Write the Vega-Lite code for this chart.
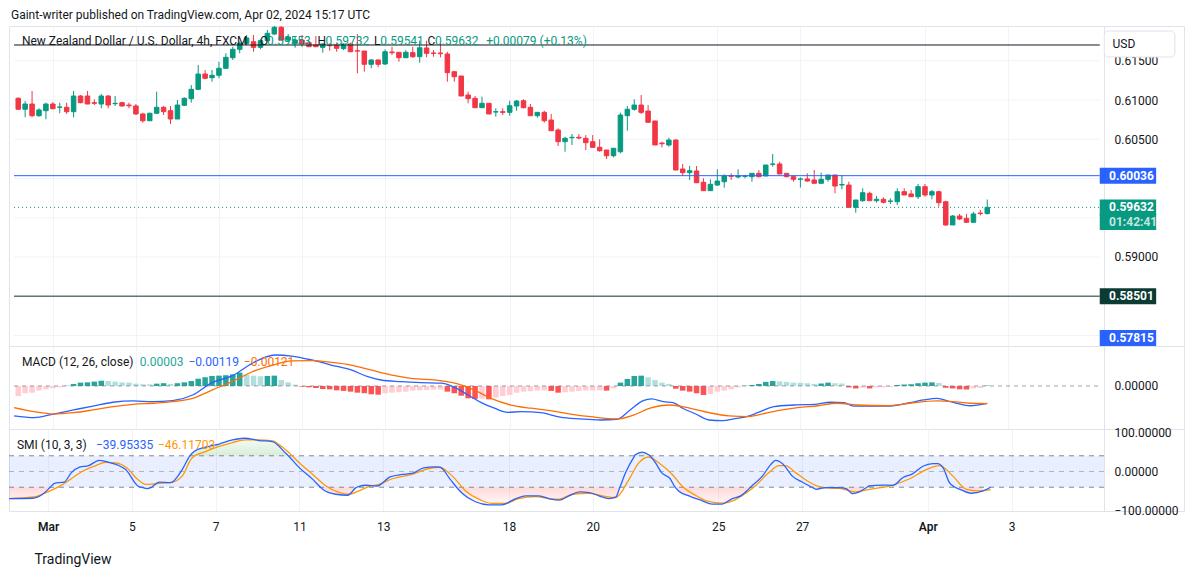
{
  "$schema": "https://vega.github.io/schema/vega-lite/v6.json",
  "padding": {"left": 5, "right": 10, "top": 8, "bottom": 5},
  "title": {"text": "Gaint-writer published on TradingView.com, Apr 02, 2024 15:17 UTC", "anchor": "start", "dx": 5, "offset": 4, "fontSize": 12, "fontWeight": "normal", "color": "#131722", "font": "Roboto"},
  "spacing": 0,
  "bounds": "flush",
  "resolve": {"scale": {"color": "independent"}},
  "datasets": {
    "c": [
      {"k":-5,"o":0.61022,"h":0.61034,"l":0.60873,"c":0.60882,"m":-0.00069,"st":"nu"},
      {"k":-4,"o":0.60882,"h":0.60987,"l":0.60780,"c":0.60949,"m":-0.0005,"st":"nu"},
      {"k":-3,"o":0.60949,"h":0.61115,"l":0.60780,"c":0.60800,"m":-0.00046,"st":"nu"},
      {"k":-2,"o":0.60800,"h":0.60894,"l":0.60787,"c":0.60873,"m":-0.00032,"st":"nu"},
      {"k":-1,"o":0.60864,"h":0.60966,"l":0.60754,"c":0.60949,"m":-0.00023,"st":"nu"},
      {"k":0,"o":0.60949,"h":0.60975,"l":0.60882,"c":0.60889,"m":-0.00016,"st":"nu"},
      {"k":1,"o":0.60907,"h":0.60966,"l":0.60831,"c":0.60911,"m":-0.00009,"st":"nu"},
      {"k":2,"o":0.60907,"h":0.60966,"l":0.60822,"c":0.60851,"m":0.00002,"st":"pu"},
      {"k":3,"o":0.60851,"h":0.61115,"l":0.60780,"c":0.61051,"m":0.00014,"st":"pu"},
      {"k":4,"o":0.61051,"h":0.61064,"l":0.60958,"c":0.60966,"m":0.00023,"st":"pu"},
      {"k":5,"o":0.61051,"h":0.61115,"l":0.60949,"c":0.60949,"m":0.00025,"st":"pu"},
      {"k":6,"o":0.60966,"h":0.61009,"l":0.60936,"c":0.60958,"m":0.0003,"st":"pu"},
      {"k":7,"o":0.60949,"h":0.61077,"l":0.60894,"c":0.61051,"m":0.00036,"st":"pu"},
      {"k":8,"o":0.61051,"h":0.61064,"l":0.60894,"c":0.60936,"m":0.00034,"st":"pd"},
      {"k":9,"o":0.60953,"h":0.61051,"l":0.60924,"c":0.60958,"m":0.0003,"st":"pd"},
      {"k":10,"o":0.60966,"h":0.60978,"l":0.60915,"c":0.60924,"m":0.00025,"st":"pd"},
      {"k":11,"o":0.60936,"h":0.60966,"l":0.60894,"c":0.60927,"m":0.00023,"st":"pd"},
      {"k":12,"o":0.60924,"h":0.60949,"l":0.60809,"c":0.60822,"m":0.00016,"st":"pd"},
      {"k":13,"o":0.60822,"h":0.60838,"l":0.60711,"c":0.60736,"m":0.00012,"st":"pd"},
      {"k":14,"o":0.60736,"h":0.60838,"l":0.60736,"c":0.60831,"m":0.00011,"st":"pd"},
      {"k":15,"o":0.60831,"h":0.61106,"l":0.60822,"c":0.60907,"m":0.00016,"st":"pu"},
      {"k":16,"o":0.60907,"h":0.60924,"l":0.60809,"c":0.60851,"m":0.00019,"st":"pu"},
      {"k":17,"o":0.60864,"h":0.60924,"l":0.60694,"c":0.60758,"m":0.00014,"st":"pd"},
      {"k":18,"o":0.60758,"h":0.61000,"l":0.60758,"c":0.60936,"m":0.00019,"st":"pu"},
      {"k":19,"o":0.60933,"h":0.61034,"l":0.60924,"c":0.61022,"m":0.00025,"st":"pu"},
      {"k":20,"o":0.61017,"h":0.61191,"l":0.60966,"c":0.61136,"m":0.00034,"st":"pu"},
      {"k":21,"o":0.61136,"h":0.61446,"l":0.61127,"c":0.61331,"m":0.0005,"st":"pu"},
      {"k":22,"o":0.61331,"h":0.61382,"l":0.61264,"c":0.61277,"m":0.0006,"st":"pu"},
      {"k":23,"o":0.61284,"h":0.61382,"l":0.61233,"c":0.61315,"m":0.00069,"st":"pu"},
      {"k":24,"o":0.61315,"h":0.61488,"l":0.61277,"c":0.61404,"m":0.00071,"st":"pu"},
      {"k":25,"o":0.61404,"h":0.61595,"l":0.61404,"c":0.61544,"m":0.00074,"st":"pu"},
      {"k":26,"o":0.61539,"h":0.61679,"l":0.61510,"c":0.61646,"m":0.0008,"st":"pu"},
      {"k":27,"o":0.61646,"h":0.61743,"l":0.61595,"c":0.61722,"m":0.00092,"st":"pu"},
      {"k":28,"o":0.61722,"h":0.61828,"l":0.61701,"c":0.61790,"m":0.00078,"st":"pd"},
      {"k":29,"o":0.61743,"h":0.61828,"l":0.61615,"c":0.61671,"m":0.00071,"st":"pd"},
      {"k":30,"o":0.61671,"h":0.61773,"l":0.61646,"c":0.61756,"m":0.00067,"st":"pd"},
      {"k":31,"o":0.61756,"h":0.61892,"l":0.61743,"c":0.61850,"m":0.00069,"st":"pu"},
      {"k":32,"o":0.61841,"h":0.61943,"l":0.61828,"c":0.61926,"m":0.00071,"st":"pu"},
      {"k":33,"o":0.61926,"h":0.61949,"l":0.61756,"c":0.61764,"m":0.00041,"st":"pd"},
      {"k":34,"o":0.61764,"h":0.61841,"l":0.61739,"c":0.61803,"m":0.00025,"st":"pd"},
      {"k":35,"o":0.61722,"h":0.61807,"l":0.61666,"c":0.61764,"m":0.00009,"st":"pd"},
      {"k":36,"o":0.61764,"h":0.61828,"l":0.61679,"c":0.61714,"m":-0.00005,"st":"nd"},
      {"k":37,"o":0.61730,"h":0.61752,"l":0.61675,"c":0.61679,"m":-0.00009,"st":"nd"},
      {"k":38,"o":0.61701,"h":0.61815,"l":0.61679,"c":0.61679,"m":-0.00014,"st":"nd"},
      {"k":39,"o":0.61671,"h":0.61722,"l":0.61603,"c":0.61714,"m":-0.00021,"st":"nd"},
      {"k":40,"o":0.61701,"h":0.61722,"l":0.61628,"c":0.61692,"m":-0.00023,"st":"nd"},
      {"k":41,"o":0.61701,"h":0.61730,"l":0.61615,"c":0.61659,"m":-0.0003,"st":"nd"},
      {"k":42,"o":0.61654,"h":0.61722,"l":0.61637,"c":0.61714,"m":-0.00034,"st":"nd"},
      {"k":43,"o":0.61714,"h":0.61730,"l":0.61615,"c":0.61615,"m":-0.00039,"st":"nd"},
      {"k":44,"o":0.61628,"h":0.61841,"l":0.61340,"c":0.61624,"m":-0.00046,"st":"nd"},
      {"k":45,"o":0.61624,"h":0.61624,"l":0.61361,"c":0.61455,"m":-0.0005,"st":"nd"},
      {"k":46,"o":0.61455,"h":0.61519,"l":0.61404,"c":0.61510,"m":-0.00057,"st":"nd"},
      {"k":47,"o":0.61510,"h":0.61519,"l":0.61417,"c":0.61455,"m":-0.0006,"st":"nd"},
      {"k":48,"o":0.61459,"h":0.61646,"l":0.61446,"c":0.61615,"m":-0.0005,"st":"nu"},
      {"k":49,"o":0.61612,"h":0.61679,"l":0.61573,"c":0.61603,"m":-0.00046,"st":"nu"},
      {"k":50,"o":0.61608,"h":0.61608,"l":0.61488,"c":0.61539,"m":-0.00043,"st":"nu"},
      {"k":51,"o":0.61539,"h":0.61637,"l":0.61539,"c":0.61608,"m":-0.00039,"st":"nu"},
      {"k":52,"o":0.61603,"h":0.61679,"l":0.61539,"c":0.61552,"m":-0.00032,"st":"nu"},
      {"k":53,"o":0.61552,"h":0.61756,"l":0.61475,"c":0.61666,"m":-0.0003,"st":"nu"},
      {"k":54,"o":0.61663,"h":0.61756,"l":0.61544,"c":0.61595,"m":-0.00028,"st":"nu"},
      {"k":55,"o":0.61599,"h":0.61637,"l":0.61552,"c":0.61595,"m":-0.00025,"st":"nu"},
      {"k":56,"o":0.61599,"h":0.61722,"l":0.61544,"c":0.61590,"m":-0.00024,"st":"nu"},
      {"k":57,"o":0.61586,"h":0.61615,"l":0.61233,"c":0.61348,"m":-0.00039,"st":"nd"},
      {"k":58,"o":0.61361,"h":0.61361,"l":0.61233,"c":0.61297,"m":-0.0005,"st":"nd"},
      {"k":59,"o":0.61306,"h":0.61306,"l":0.61051,"c":0.61051,"m":-0.00067,"st":"nd"},
      {"k":60,"o":0.61064,"h":0.61106,"l":0.60958,"c":0.61017,"m":-0.00085,"st":"nd"},
      {"k":61,"o":0.61022,"h":0.61051,"l":0.60902,"c":0.60902,"m":-0.00089,"st":"nd"},
      {"k":62,"o":0.60902,"h":0.61042,"l":0.60902,"c":0.60958,"m":-0.00087,"st":"nu"},
      {"k":63,"o":0.60958,"h":0.60958,"l":0.60822,"c":0.60822,"m":-0.00092,"st":"nd"},
      {"k":64,"o":0.60847,"h":0.60894,"l":0.60787,"c":0.60851,"m":-0.0008,"st":"nu"},
      {"k":65,"o":0.60851,"h":0.60894,"l":0.60809,"c":0.60843,"m":-0.00069,"st":"nu"},
      {"k":66,"o":0.60843,"h":0.60991,"l":0.60800,"c":0.60927,"m":-0.00062,"st":"nu"},
      {"k":67,"o":0.60924,"h":0.61000,"l":0.60864,"c":0.60987,"m":-0.00046,"st":"nu"},
      {"k":68,"o":0.60991,"h":0.61009,"l":0.60894,"c":0.60902,"m":-0.00039,"st":"nu"},
      {"k":69,"o":0.60907,"h":0.60949,"l":0.60800,"c":0.60800,"m":-0.00036,"st":"nu"},
      {"k":70,"o":0.60800,"h":0.60843,"l":0.60775,"c":0.60843,"m":-0.00032,"st":"nu"},
      {"k":71,"o":0.60843,"h":0.60864,"l":0.60711,"c":0.60736,"m":-0.00031,"st":"nu"},
      {"k":72,"o":0.60745,"h":0.60822,"l":0.60609,"c":0.60609,"m":-0.00034,"st":"nd"},
      {"k":73,"o":0.60618,"h":0.60640,"l":0.60414,"c":0.60469,"m":-0.00046,"st":"nd"},
      {"k":74,"o":0.60469,"h":0.60533,"l":0.60341,"c":0.60512,"m":-0.00043,"st":"nu"},
      {"k":75,"o":0.60520,"h":0.60567,"l":0.60427,"c":0.60525,"m":-0.00039,"st":"nu"},
      {"k":76,"o":0.60525,"h":0.60567,"l":0.60499,"c":0.60516,"m":-0.00034,"st":"nu"},
      {"k":77,"o":0.60512,"h":0.60554,"l":0.60363,"c":0.60456,"m":-0.00032,"st":"nu"},
      {"k":78,"o":0.60469,"h":0.60554,"l":0.60397,"c":0.60397,"m":-0.00031,"st":"nu"},
      {"k":79,"o":0.60397,"h":0.60499,"l":0.60341,"c":0.60354,"m":-0.0003,"st":"nu"},
      {"k":80,"o":0.60363,"h":0.60363,"l":0.60248,"c":0.60290,"m":-0.00032,"st":"nd"},
      {"k":81,"o":0.60290,"h":0.60385,"l":0.60270,"c":0.60385,"m":-0.00016,"st":"nu"},
      {"k":82,"o":0.60341,"h":0.60838,"l":0.60321,"c":0.60809,"m":0.00023,"st":"pu"},
      {"k":83,"o":0.60800,"h":0.60924,"l":0.60609,"c":0.60882,"m":0.00048,"st":"pu"},
      {"k":84,"o":0.60882,"h":0.61009,"l":0.60864,"c":0.60936,"m":0.00069,"st":"pu"},
      {"k":85,"o":0.60936,"h":0.61064,"l":0.60822,"c":0.60843,"m":0.00071,"st":"pu"},
      {"k":86,"o":0.60860,"h":0.60936,"l":0.60716,"c":0.60716,"m":0.0006,"st":"pd"},
      {"k":87,"o":0.60733,"h":0.60733,"l":0.60427,"c":0.60427,"m":0.00041,"st":"pd"},
      {"k":88,"o":0.60452,"h":0.60469,"l":0.60397,"c":0.60443,"m":0.00023,"st":"pd"},
      {"k":89,"o":0.60427,"h":0.60520,"l":0.60405,"c":0.60490,"m":0.00014,"st":"pd"},
      {"k":90,"o":0.60490,"h":0.60499,"l":0.60108,"c":0.60108,"m":-0.00019,"st":"nd"},
      {"k":91,"o":0.60121,"h":0.60185,"l":0.60032,"c":0.60074,"m":-0.00032,"st":"nd"},
      {"k":92,"o":0.60074,"h":0.60159,"l":0.59981,"c":0.60099,"m":-0.00039,"st":"nd"},
      {"k":93,"o":0.60096,"h":0.60159,"l":0.59946,"c":0.59946,"m":-0.0005,"st":"nd"},
      {"k":94,"o":0.59952,"h":0.60003,"l":0.59845,"c":0.59845,"m":-0.00062,"st":"nd"},
      {"k":95,"o":0.59845,"h":0.59990,"l":0.59845,"c":0.59926,"m":-0.00055,"st":"nu"},
      {"k":96,"o":0.59917,"h":0.60117,"l":0.59904,"c":0.59968,"m":-0.00039,"st":"nu"},
      {"k":97,"o":0.59959,"h":0.60054,"l":0.59883,"c":0.60032,"m":-0.00032,"st":"nu"},
      {"k":98,"o":0.60036,"h":0.60066,"l":0.59981,"c":0.60028,"m":-0.00023,"st":"nu"},
      {"k":99,"o":0.60019,"h":0.60117,"l":0.60003,"c":0.60032,"m":-0.0001,"st":"nu"},
      {"k":100,"o":0.60028,"h":0.60045,"l":0.60003,"c":0.60032,"m":0.00002,"st":"pu"},
      {"k":101,"o":0.60023,"h":0.60066,"l":0.59959,"c":0.60066,"m":0.00007,"st":"pu"},
      {"k":102,"o":0.60066,"h":0.60108,"l":0.60015,"c":0.60023,"m":0.00014,"st":"pu"},
      {"k":103,"o":0.60032,"h":0.60172,"l":0.60032,"c":0.60172,"m":0.00028,"st":"pu"},
      {"k":104,"o":0.60181,"h":0.60312,"l":0.60150,"c":0.60185,"m":0.00034,"st":"pu"},
      {"k":105,"o":0.60185,"h":0.60214,"l":0.60057,"c":0.60057,"m":0.00032,"st":"pd"},
      {"k":106,"o":0.60066,"h":0.60066,"l":0.60015,"c":0.60023,"m":0.00028,"st":"pd"},
      {"k":107,"o":0.60023,"h":0.60045,"l":0.59959,"c":0.59990,"m":0.00023,"st":"pd"},
      {"k":108,"o":0.59990,"h":0.60015,"l":0.59885,"c":0.59994,"m":0.00022,"st":"pd"},
      {"k":109,"o":0.59994,"h":0.60066,"l":0.59959,"c":0.59968,"m":0.00019,"st":"pd"},
      {"k":110,"o":0.59981,"h":0.60108,"l":0.59939,"c":0.59939,"m":0.00014,"st":"pd"},
      {"k":111,"o":0.59939,"h":0.60074,"l":0.59939,"c":0.59990,"m":0.00017,"st":"pu"},
      {"k":112,"o":0.59990,"h":0.60045,"l":0.59959,"c":0.60045,"m":0.00023,"st":"pu"},
      {"k":113,"o":0.60045,"h":0.60045,"l":0.59811,"c":0.59904,"m":0.00019,"st":"pd"},
      {"k":114,"o":0.59917,"h":0.60045,"l":0.59862,"c":0.59924,"m":0.00017,"st":"pd"},
      {"k":115,"o":0.59917,"h":0.59959,"l":0.59633,"c":0.59633,"m":-0.0001,"st":"nd"},
      {"k":116,"o":0.59633,"h":0.59726,"l":0.59564,"c":0.59726,"m":-0.00017,"st":"nd"},
      {"k":117,"o":0.59717,"h":0.59875,"l":0.59704,"c":0.59819,"m":-0.00012,"st":"nu"},
      {"k":118,"o":0.59811,"h":0.59832,"l":0.59717,"c":0.59717,"m":-0.00017,"st":"nd"},
      {"k":119,"o":0.59717,"h":0.59777,"l":0.59692,"c":0.59735,"m":-0.0001,"st":"nu"},
      {"k":120,"o":0.59735,"h":0.59760,"l":0.59684,"c":0.59697,"m":-0.00009,"st":"nu"},
      {"k":121,"o":0.59710,"h":0.59748,"l":0.59675,"c":0.59713,"m":-0.00007,"st":"nu"},
      {"k":122,"o":0.59704,"h":0.59875,"l":0.59662,"c":0.59832,"m":0.00007,"st":"pu"},
      {"k":123,"o":0.59832,"h":0.59875,"l":0.59790,"c":0.59790,"m":0.0001,"st":"pu"},
      {"k":124,"o":0.59803,"h":0.59853,"l":0.59768,"c":0.59768,"m":0.00012,"st":"pu"},
      {"k":125,"o":0.59768,"h":0.59930,"l":0.59739,"c":0.59896,"m":0.00019,"st":"pu"},
      {"k":126,"o":0.59896,"h":0.59930,"l":0.59768,"c":0.59790,"m":0.00023,"st":"pu"},
      {"k":127,"o":0.59790,"h":0.59853,"l":0.59735,"c":0.59832,"m":0.00025,"st":"pu"},
      {"k":128,"o":0.59832,"h":0.59845,"l":0.59641,"c":0.59692,"m":0.00021,"st":"pd"},
      {"k":129,"o":0.59704,"h":0.59717,"l":0.59395,"c":0.59408,"m":-0.00012,"st":"nd"},
      {"k":130,"o":0.59408,"h":0.59535,"l":0.59408,"c":0.59522,"m":-0.00017,"st":"nd"},
      {"k":131,"o":0.59522,"h":0.59548,"l":0.59471,"c":0.59484,"m":-0.00023,"st":"nd"},
      {"k":132,"o":0.59493,"h":0.59548,"l":0.59442,"c":0.59442,"m":-0.00024,"st":"nd"},
      {"k":133,"o":0.59442,"h":0.59577,"l":0.59442,"c":0.59548,"m":-0.00017,"st":"nu"},
      {"k":134,"o":0.59560,"h":0.59599,"l":0.59530,"c":0.59553,"m":-0.00014,"st":"nu"},
      {"k":135,"o":0.59553,"h":0.59732,"l":0.59541,"c":0.59632,"m":0.00003,"st":"pu"}
    ],
    "macd": [
      {"k":-5.6,"v":-0.00206},{"k":-2.7,"v":-0.00218},{"k":0.1,"v":-0.00193},{"k":3,"v":-0.00165},{"k":5.8,"v":-0.00138},{"k":8.7,"v":-0.00112},{"k":11.6,"v":-0.00103},{"k":14.4,"v":-0.00108},{"k":17.3,"v":-0.00101},{"k":20.2,"v":-0.00062},{"k":23,"v":0.00023},{"k":25.9,"v":0.00069},{"k":28.8,"v":0.00156},{"k":32.1,"v":0.00213},{"k":34.5,"v":0.00206},{"k":37.4,"v":0.00179},{"k":40.2,"v":0.00144},{"k":43.1,"v":0.0011},{"k":45.5,"v":0.00064},{"k":47.4,"v":0.00041},{"k":50.3,"v":0.0003},{"k":53.2,"v":0.00023},{"k":56.1,"v":0.00019},{"k":58,"v":-0.00009},{"k":60,"v":-0.00062},{"k":61.9,"v":-0.00115},{"k":63.8,"v":-0.00153},{"k":65.7,"v":-0.00181},{"k":67.6,"v":-0.00177},{"k":70.5,"v":-0.00184},{"k":73.3,"v":-0.00215},{"k":76.2,"v":-0.00227},{"k":79.1,"v":-0.00234},{"k":81.5,"v":-0.00229},{"k":83.4,"v":-0.00165},{"k":85.3,"v":-0.00101},{"k":86.5,"v":-0.00089},{"k":88.2,"v":-0.00108},{"k":89.6,"v":-0.00115},{"k":91,"v":-0.00153},{"k":92.9,"v":-0.00193},{"k":94.8,"v":-0.00234},{"k":96.7,"v":-0.00239},{"k":98.6,"v":-0.00225},{"k":100.5,"v":-0.00208},{"k":101.8,"v":-0.00184},{"k":104.2,"v":-0.00142},{"k":107.1,"v":-0.00131},{"k":110,"v":-0.00126},{"k":112.4,"v":-0.00112},{"k":114.3,"v":-0.00115},{"k":115.7,"v":-0.00138},{"k":118.1,"v":-0.00138},{"k":121,"v":-0.00138},{"k":123.8,"v":-0.00115},{"k":125.8,"v":-0.00096},{"k":127.7,"v":-0.00085},{"k":129.1,"v":-0.00101},{"k":130.6,"v":-0.00119},{"k":132.5,"v":-0.00136},{"k":135,"v":-0.00119}
    ],
    "macds": [
      {"k":-5.6,"v":-0.00149},{"k":-2.7,"v":-0.00177},{"k":0.1,"v":-0.00193},{"k":3,"v":-0.00184},{"k":5.8,"v":-0.00165},{"k":8.7,"v":-0.00142},{"k":11.6,"v":-0.00126},{"k":14.4,"v":-0.00119},{"k":17.3,"v":-0.00108},{"k":20.2,"v":-0.00085},{"k":23,"v":-0.00028},{"k":25.9,"v":0.0003},{"k":28.8,"v":0.00098},{"k":31.8,"v":0.00144},{"k":34.5,"v":0.00172},{"k":37.4,"v":0.00174},{"k":40.2,"v":0.00163},{"k":43.1,"v":0.00144},{"k":45.9,"v":0.0011},{"k":48.8,"v":0.00076},{"k":51.7,"v":0.00053},{"k":56.1,"v":0.00036},{"k":58.5,"v":0.00014},{"k":60.9,"v":-0.00028},{"k":63.3,"v":-0.00085},{"k":66.2,"v":-0.00131},{"k":69.1,"v":-0.00153},{"k":71.9,"v":-0.0017},{"k":74.8,"v":-0.00193},{"k":77.7,"v":-0.00211},{"k":81.5,"v":-0.00227},{"k":83.9,"v":-0.002},{"k":86.3,"v":-0.00153},{"k":89.1,"v":-0.00131},{"k":92,"v":-0.00153},{"k":94.8,"v":-0.00184},{"k":97.7,"v":-0.00206},{"k":100.5,"v":-0.00211},{"k":101.8,"v":-0.002},{"k":104.7,"v":-0.0017},{"k":107.6,"v":-0.00149},{"k":110.5,"v":-0.00136},{"k":113.3,"v":-0.00119},{"k":116.2,"v":-0.00131},{"k":120.5,"v":-0.00136},{"k":123.8,"v":-0.00119},{"k":127.7,"v":-0.00103},{"k":130.1,"v":-0.00108},{"k":132.5,"v":-0.00119},{"k":135,"v":-0.00121}
    ],
    "smi": [
      {"k":-5.6,"v":-68.8},{"k":-2.2,"v":-68},{"k":-0.8,"v":-58},{"k":0.3,"v":-40},{"k":0.9,"v":-30},{"k":2.3,"v":-27},{"k":3.3,"v":-3.4},{"k":4.5,"v":11},{"k":5.8,"v":15},{"k":7.3,"v":28.5},{"k":8.7,"v":23.5},{"k":11.1,"v":5},{"k":13,"v":-38.6},{"k":13.3,"v":-40},{"k":14.2,"v":-43.6},{"k":14.8,"v":-40},{"k":15.9,"v":-27},{"k":17.5,"v":-28.5},{"k":19.2,"v":5},{"k":20.3,"v":40},{"k":20.9,"v":51},{"k":22.6,"v":62},{"k":24.5,"v":70},{"k":26.4,"v":80.5},{"k":28.1,"v":84.7},{"k":30.2,"v":78.8},{"k":32.1,"v":76.3},{"k":34,"v":47},{"k":34.4,"v":40},{"k":36,"v":9.2},{"k":37.9,"v":-20},{"k":39,"v":-40},{"k":39.3,"v":-45},{"k":41.2,"v":-57.9},{"k":42.9,"v":-60.4},{"k":44.1,"v":-41},{"k":44.2,"v":-40},{"k":45.5,"v":-35},{"k":47.1,"v":-36.9},{"k":49,"v":-13.4},{"k":50.7,"v":-7.5},{"k":52.1,"v":-5},{"k":53.8,"v":9.2},{"k":55.4,"v":11.7},{"k":56.1,"v":10.9},{"k":57.6,"v":-20},{"k":58.5,"v":-40},{"k":59.3,"v":-55.3},{"k":61.2,"v":-77},{"k":63.1,"v":-84.7},{"k":65,"v":-84.7},{"k":67,"v":-68.8},{"k":68.4,"v":-62},{"k":70.3,"v":-62},{"k":72,"v":-70.4},{"k":73.2,"v":-73},{"k":74.6,"v":-62},{"k":76.1,"v":-52},{"k":77.5,"v":-53.7},{"k":78.9,"v":-62},{"k":80.3,"v":-68.8},{"k":81.3,"v":-65.4},{"k":81.9,"v":-40},{"k":82.7,"v":-3.4},{"k":84,"v":40},{"k":84.1,"v":42.8},{"k":85.1,"v":49.5},{"k":86,"v":42.8},{"k":86.2,"v":40},{"k":87,"v":21.8},{"k":87.9,"v":-3.4},{"k":89.1,"v":-18.4},{"k":89.8,"v":-40},{"k":90.3,"v":-49.5},{"k":91.8,"v":-62},{"k":93.7,"v":-74.6},{"k":95.1,"v":-83},{"k":96.5,"v":-83},{"k":98,"v":-68.8},{"k":99.2,"v":-62},{"k":100.1,"v":-49},{"k":100.6,"v":-40},{"k":100.8,"v":-36.9},{"k":102.3,"v":-11.7},{"k":103.5,"v":17.6},{"k":104.2,"v":28.5},{"k":105.2,"v":20},{"k":106.6,"v":-11.7},{"k":108,"v":-26.8},{"k":109.4,"v":-40},{"k":110,"v":-45.3},{"k":111.4,"v":-41},{"k":113.3,"v":-41},{"k":114.3,"v":-43.6},{"k":115.2,"v":-56.2},{"k":116.2,"v":-52},{"k":117.3,"v":-40},{"k":117.6,"v":-36.9},{"k":119.5,"v":-34.4},{"k":121,"v":-35.2},{"k":122.4,"v":-16},{"k":123.8,"v":-5.9},{"k":125.3,"v":13.4},{"k":126.7,"v":20},{"k":127.4,"v":20},{"k":128.2,"v":9.2},{"k":129.1,"v":-28.5},{"k":129.9,"v":-40},{"k":130.6,"v":-45.3},{"k":132.2,"v":-55.3},{"k":133.9,"v":-49.5},{"k":135,"v":-39.95}
    ],
    "smis": [
      {"k":-5.6,"v":-68.8},{"k":-1.8,"v":-63.7},{"k":-0.3,"v":-53.7},{"k":2.1,"v":-32.7},{"k":3.5,"v":-16},{"k":4.9,"v":0.8},{"k":6.8,"v":15},{"k":8.2,"v":23.5},{"k":9.7,"v":21.8},{"k":11.3,"v":9.2},{"k":12.8,"v":-20},{"k":14,"v":-32.7},{"k":15.9,"v":-30.2},{"k":17.5,"v":-28.5},{"k":19.2,"v":-11.7},{"k":20.6,"v":34.4},{"k":22.6,"v":51},{"k":24.5,"v":63.7},{"k":26.4,"v":73.8},{"k":28.3,"v":80.5},{"k":30.2,"v":80.5},{"k":32.1,"v":78},{"k":34,"v":55.3},{"k":36,"v":21.8},{"k":37.9,"v":-7.5},{"k":39.8,"v":-36.9},{"k":41.7,"v":-53.7},{"k":43.1,"v":-57.9},{"k":44.5,"v":-49.5},{"k":46,"v":-38},{"k":47.4,"v":-32.7},{"k":49.3,"v":-18.4},{"k":52.1,"v":-7.5},{"k":54,"v":5},{"k":56,"v":10.9},{"k":57.9,"v":-11.7},{"k":59.8,"v":-49.5},{"k":61.7,"v":-70.4},{"k":63.6,"v":-81.3},{"k":65.5,"v":-81.3},{"k":67.4,"v":-68.8},{"k":69.8,"v":-63.7},{"k":71.7,"v":-68.8},{"k":73.2,"v":-70.4},{"k":75.1,"v":-57.9},{"k":77.5,"v":-55.3},{"k":79.4,"v":-62},{"k":81.3,"v":-66.2},{"k":83.2,"v":-20},{"k":84.6,"v":21.8},{"k":86,"v":36.9},{"k":87.5,"v":21.8},{"k":89.4,"v":-7.5},{"k":90.8,"v":-36.9},{"k":92.7,"v":-60.4},{"k":94.6,"v":-76.3},{"k":96.5,"v":-80.5},{"k":98.4,"v":-72.1},{"k":99.5,"v":-60},{"k":101.2,"v":-38},{"k":103.2,"v":-3.4},{"k":104.7,"v":15},{"k":105.6,"v":15},{"k":107.1,"v":-3.4},{"k":109,"v":-26.8},{"k":111,"v":-41},{"k":113.3,"v":-42.8},{"k":115.7,"v":-52},{"k":117.6,"v":-45.3},{"k":120.5,"v":-36.9},{"k":123.4,"v":-18.4},{"k":125.8,"v":5},{"k":127.7,"v":15},{"k":129.6,"v":-11.7},{"k":131.5,"v":-45.3},{"k":133.4,"v":-49.5},{"k":135,"v":-46.12}
    ],
    "lv": [{"p":0.58},{"p":0.585},{"p":0.59},{"p":0.595},{"p":0.6},{"p":0.605},{"p":0.61},{"p":0.615}],
    "lines": [{"p":0.61701,"kind":"black"},{"p":0.60036,"kind":"blue"},{"p":0.58501,"kind":"dark"}],
    "boxes": [
      {"y":0.60036,"t":"0.60036","kind":"blue"},
      {"y":0.59632,"t":"0.59632","kind":"green"},
      {"y":0.59446,"t":"01:42:41","kind":"green2"},
      {"y":0.58501,"t":"0.58501","kind":"dark"},
      {"y":0.57968,"t":"0.57815","kind":"blue"}
    ]
  },
  "vconcat": [
    {
      "width": 1175,
      "height": 320,
      "layer": [
        {
          "data": {"name": "lv"},
          "mark": {"type": "rule", "color": "#f0f3fa", "strokeWidth": 1},
          "encoding": {
            "x": {"datum": -5.61, "type": "quantitative", "scale": {"domain": [-5.61, 162.7], "nice": false, "zero": false}},
            "x2": {"datum": 151.25},
            "y": {"field": "p", "type": "quantitative", "scale": {"domain": [0.57866, 0.61943], "nice": false, "zero": false}}
          }
        },
        {
          "data": {"name": "c"},
          "mark": {"type": "rule", "clip": true, "strokeWidth": 1},
          "encoding": {
            "x": {"field": "k", "type": "quantitative", "scale": {"domain": [-5.61, 162.7], "nice": false, "zero": false},
              "axis": {"values": [0, 12, 24, 36, 48, 66, 78, 96, 108, 126, 138], "labels": false, "ticks": false, "domain": false, "grid": true, "gridColor": "#f0f3fa", "title": null}},
            "y": {"field": "l", "type": "quantitative", "scale": {"domain": [0.57866, 0.61943], "nice": false, "zero": false},
              "axis": {"orient": "right", "offset": -80, "values": [0.59, 0.605, 0.61, 0.615], "format": ".5f", "labelPadding": 10, "grid": false, "ticks": false, "domain": true, "domainColor": "#e0e3eb", "title": null, "labelOverlap": false, "labelFlush": false}},
            "y2": {"field": "h"},
            "color": {"condition": {"test": "datum.c >= datum.o", "value": "#089981"}, "value": "#f23645"}
          }
        },
        {
          "data": {"name": "c"},
          "mark": {"type": "bar", "clip": true, "strokeWidth": 1},
          "encoding": {
            "x": {"field": "k", "type": "quantitative", "scale": {"domain": [-5.61, 162.7], "nice": false, "zero": false}},
            "y": {"field": "o", "type": "quantitative", "scale": {"domain": [0.57866, 0.61943], "nice": false, "zero": false}},
            "y2": {"field": "c"},
            "size": {"value": 4.5},
            "color": {"condition": {"test": "datum.c >= datum.o", "value": "#089981"}, "value": "#f23645"},
            "stroke": {"condition": {"test": "datum.c >= datum.o", "value": "#089981"}, "value": "#f23645"}
          }
        },
        {
          "data": {"name": "lines"},
          "mark": {"type": "rule", "strokeWidth": 1},
          "encoding": {
            "x": {"datum": -5.61, "type": "quantitative", "scale": {"domain": [-5.61, 162.7], "nice": false, "zero": false}},
            "x2": {"datum": 151.25},
            "y": {"field": "p", "type": "quantitative", "scale": {"domain": [0.57866, 0.61943], "nice": false, "zero": false}},
            "color": {"field": "kind", "type": "nominal", "scale": {"domain": ["black", "blue", "dark", "green", "green2"], "range": ["#131722", "#2962ff", "#0b3b33", "#089981", "#089981"]}, "legend": null}
          }
        },
        {
          "data": {"values": [{}]},
          "mark": {"type": "rule", "color": "#089981", "strokeDash": [1, 3], "strokeWidth": 1},
          "encoding": {
            "x": {"datum": -5.61, "type": "quantitative", "scale": {"domain": [-5.61, 162.7], "nice": false, "zero": false}},
            "x2": {"datum": 151.25},
            "y": {"datum": 0.59632, "type": "quantitative", "scale": {"domain": [0.57866, 0.61943], "nice": false, "zero": false}}
          }
        },
        {
          "data": {"name": "boxes"},
          "mark": {"type": "rule", "strokeWidth": 16, "strokeCap": "butt"},
          "encoding": {
            "x": {"datum": 151.25, "type": "quantitative", "scale": {"domain": [-5.61, 162.7], "nice": false, "zero": false}},
            "x2": {"datum": 159.4},
            "y": {"field": "y", "type": "quantitative", "scale": {"domain": [0.57866, 0.61943], "nice": false, "zero": false}},
            "color": {"field": "kind", "type": "nominal", "scale": {"domain": ["black", "blue", "dark", "green", "green2"], "range": ["#131722", "#2962ff", "#0b3b33", "#089981", "#089981"]}, "legend": null}
          }
        },
        {
          "data": {"name": "boxes"},
          "mark": {"type": "text", "align": "left", "baseline": "middle", "fontSize": 12, "fontWeight": "bold", "font": "Roboto", "color": "#ffffff"},
          "encoding": {
            "x": {"datum": 152.6, "type": "quantitative", "scale": {"domain": [-5.61, 162.7], "nice": false, "zero": false}},
            "y": {"field": "y", "type": "quantitative", "scale": {"domain": [0.57866, 0.61943], "nice": false, "zero": false}},
            "text": {"field": "t"},
            "opacity": {"condition": {"test": "datum.kind == 'green2'", "value": 0.75}, "value": 1}
          }
        },
        {
          "data": {"values": [{}]},
          "mark": {"type": "rect", "fill": "#ffffff", "stroke": "#e0e3eb", "strokeWidth": 1, "cornerRadius": 4},
          "encoding": {
            "x": {"datum": 151.9, "type": "quantitative", "scale": {"domain": [-5.61, 162.7], "nice": false, "zero": false}},
            "x2": {"datum": 162.1},
            "y": {"datum": 0.61879, "type": "quantitative", "scale": {"domain": [0.57866, 0.61943], "nice": false, "zero": false}},
            "y2": {"datum": 0.61548}
          }
        },
        {
          "data": {"values": [{}]},
          "mark": {"type": "text", "align": "left", "baseline": "middle", "fontSize": 12, "font": "Roboto", "color": "#131722"},
          "encoding": {
            "x": {"datum": 153.1, "type": "quantitative", "scale": {"domain": [-5.61, 162.7], "nice": false, "zero": false}},
            "y": {"datum": 0.6172, "type": "quantitative", "scale": {"domain": [0.57866, 0.61943], "nice": false, "zero": false}},
            "text": {"value": "USD"}
          }
        },
        {
          "data": {"values": [{}]},
          "mark": {"type": "text", "align": "left", "baseline": "middle", "fontSize": 12, "font": "Roboto", "color": "#131722"},
          "encoding": {
            "x": {"datum": -4.47, "type": "quantitative", "scale": {"domain": [-5.61, 162.7], "nice": false, "zero": false}},
            "y": {"datum": 0.61752, "type": "quantitative", "scale": {"domain": [0.57866, 0.61943], "nice": false, "zero": false}},
            "text": {"value": "New Zealand Dollar / U.S. Dollar, 4h, FXCM"}
          }
        },
        {
          "data": {"values": [{}]},
          "mark": {"type": "text", "align": "left", "baseline": "middle", "fontSize": 12, "font": "Roboto", "color": "#131722"},
          "encoding": {
            "x": {"datum": 29.92, "type": "quantitative", "scale": {"domain": [-5.61, 162.7], "nice": false, "zero": false}},
            "y": {"datum": 0.61752, "type": "quantitative", "scale": {"domain": [0.57866, 0.61943], "nice": false, "zero": false}},
            "text": {"value": "O"}
          }
        },
        {
          "data": {"values": [{}]},
          "mark": {"type": "text", "align": "left", "baseline": "middle", "fontSize": 12, "font": "Roboto", "color": "#089981"},
          "encoding": {
            "x": {"datum": 30.95, "type": "quantitative", "scale": {"domain": [-5.61, 162.7], "nice": false, "zero": false}},
            "y": {"datum": 0.61752, "type": "quantitative", "scale": {"domain": [0.57866, 0.61943], "nice": false, "zero": false}},
            "text": {"value": "0.59553"}
          }
        },
        {
          "data": {"values": [{}]},
          "mark": {"type": "text", "align": "left", "baseline": "middle", "fontSize": 12, "font": "Roboto", "color": "#131722"},
          "encoding": {
            "x": {"datum": 38.22, "type": "quantitative", "scale": {"domain": [-5.61, 162.7], "nice": false, "zero": false}},
            "y": {"datum": 0.61752, "type": "quantitative", "scale": {"domain": [0.57866, 0.61943], "nice": false, "zero": false}},
            "text": {"value": "H"}
          }
        },
        {
          "data": {"values": [{}]},
          "mark": {"type": "text", "align": "left", "baseline": "middle", "fontSize": 12, "font": "Roboto", "color": "#089981"},
          "encoding": {
            "x": {"datum": 39.4, "type": "quantitative", "scale": {"domain": [-5.61, 162.7], "nice": false, "zero": false}},
            "y": {"datum": 0.61752, "type": "quantitative", "scale": {"domain": [0.57866, 0.61943], "nice": false, "zero": false}},
            "text": {"value": "0.59732"}
          }
        },
        {
          "data": {"values": [{}]},
          "mark": {"type": "text", "align": "left", "baseline": "middle", "fontSize": 12, "font": "Roboto", "color": "#131722"},
          "encoding": {
            "x": {"datum": 46.39, "type": "quantitative", "scale": {"domain": [-5.61, 162.7], "nice": false, "zero": false}},
            "y": {"datum": 0.61752, "type": "quantitative", "scale": {"domain": [0.57866, 0.61943], "nice": false, "zero": false}},
            "text": {"value": "L"}
          }
        },
        {
          "data": {"values": [{}]},
          "mark": {"type": "text", "align": "left", "baseline": "middle", "fontSize": 12, "font": "Roboto", "color": "#089981"},
          "encoding": {
            "x": {"datum": 47.3, "type": "quantitative", "scale": {"domain": [-5.61, 162.7], "nice": false, "zero": false}},
            "y": {"datum": 0.61752, "type": "quantitative", "scale": {"domain": [0.57866, 0.61943], "nice": false, "zero": false}},
            "text": {"value": "0.59541"}
          }
        },
        {
          "data": {"values": [{}]},
          "mark": {"type": "text", "align": "left", "baseline": "middle", "fontSize": 12, "font": "Roboto", "color": "#131722"},
          "encoding": {
            "x": {"datum": 54.13, "type": "quantitative", "scale": {"domain": [-5.61, 162.7], "nice": false, "zero": false}},
            "y": {"datum": 0.61752, "type": "quantitative", "scale": {"domain": [0.57866, 0.61943], "nice": false, "zero": false}},
            "text": {"value": "C"}
          }
        },
        {
          "data": {"values": [{}]},
          "mark": {"type": "text", "align": "left", "baseline": "middle", "fontSize": 12, "font": "Roboto", "color": "#089981"},
          "encoding": {
            "x": {"datum": 55.2, "type": "quantitative", "scale": {"domain": [-5.61, 162.7], "nice": false, "zero": false}},
            "y": {"datum": 0.61752, "type": "quantitative", "scale": {"domain": [0.57866, 0.61943], "nice": false, "zero": false}},
            "text": {"value": "0.59632"}
          }
        },
        {
          "data": {"values": [{}]},
          "mark": {"type": "text", "align": "left", "baseline": "middle", "fontSize": 12, "font": "Roboto", "color": "#089981"},
          "encoding": {
            "x": {"datum": 62.6, "type": "quantitative", "scale": {"domain": [-5.61, 162.7], "nice": false, "zero": false}},
            "y": {"datum": 0.61752, "type": "quantitative", "scale": {"domain": [0.57866, 0.61943], "nice": false, "zero": false}},
            "text": {"value": "+0.00079 (+0.13%)"}
          }
        }
      ]
    },
    {
      "width": 1175,
      "height": 83,
      "layer": [
        {
          "data": {"name": "c"},
          "mark": {"type": "bar"},
          "encoding": {
            "x": {"field": "k", "type": "quantitative", "scale": {"domain": [-5.61, 162.7], "nice": false, "zero": false},
              "axis": {"values": [0, 12, 24, 36, 48, 66, 78, 96, 108, 126, 138], "labels": false, "ticks": false, "domain": false, "grid": true, "gridColor": "#f0f3fa", "title": null}},
            "y": {"field": "m", "type": "quantitative", "scale": {"domain": [-0.00296, 0.00275], "nice": false, "zero": false},
              "axis": {"orient": "right", "offset": -80, "values": [0], "format": ".5f", "labelPadding": 10, "grid": false, "ticks": false, "domain": true, "domainColor": "#e0e3eb", "title": null, "labelOverlap": false}},
            "y2": {"datum": 0},
            "size": {"value": 5.5},
            "color": {"field": "st", "type": "nominal", "scale": {"domain": ["pu", "pd", "nd", "nu"], "range": ["#26a69a", "#b2dfdb", "#ff5252", "#ffcdd2"]}, "legend": null}
          }
        },
        {
          "data": {"values": [{}]},
          "mark": {"type": "rule", "color": "#787b86", "strokeDash": [4, 4], "strokeWidth": 1, "opacity": 0.7},
          "encoding": {
            "x": {"datum": -5.61, "type": "quantitative", "scale": {"domain": [-5.61, 162.7], "nice": false, "zero": false}},
            "x2": {"datum": 151.25},
            "y": {"datum": 0, "type": "quantitative", "scale": {"domain": [-0.00296, 0.00275], "nice": false, "zero": false}}
          }
        },
        {
          "data": {"name": "macd"},
          "mark": {"type": "line", "color": "#2962ff", "strokeWidth": 1.3, "interpolate": "monotone"},
          "encoding": {
            "x": {"field": "k", "type": "quantitative", "scale": {"domain": [-5.61, 162.7], "nice": false, "zero": false}},
            "y": {"field": "v", "type": "quantitative", "scale": {"domain": [-0.00296, 0.00275], "nice": false, "zero": false}}
          }
        },
        {
          "data": {"name": "macds"},
          "mark": {"type": "line", "color": "#ff6d00", "strokeWidth": 1.3, "interpolate": "monotone"},
          "encoding": {
            "x": {"field": "k", "type": "quantitative", "scale": {"domain": [-5.61, 162.7], "nice": false, "zero": false}},
            "y": {"field": "v", "type": "quantitative", "scale": {"domain": [-0.00296, 0.00275], "nice": false, "zero": false}}
          }
        },
        {
          "data": {"values": [{}]},
          "mark": {"type": "text", "align": "left", "baseline": "middle", "fontSize": 12, "font": "Roboto", "color": "#131722"},
          "encoding": {
            "x": {"datum": -4.47, "type": "quantitative", "scale": {"domain": [-5.61, 162.7], "nice": false, "zero": false}},
            "y": {"datum": 0.00165, "type": "quantitative", "scale": {"domain": [-0.00296, 0.00275], "nice": false, "zero": false}},
            "text": {"value": "MACD (12, 26, close)"}
          }
        },
        {
          "data": {"values": [{}]},
          "mark": {"type": "text", "align": "left", "baseline": "middle", "fontSize": 12, "font": "Roboto", "color": "#26a69a"},
          "encoding": {
            "x": {"datum": 12.57, "type": "quantitative", "scale": {"domain": [-5.61, 162.7], "nice": false, "zero": false}},
            "y": {"datum": 0.00165, "type": "quantitative", "scale": {"domain": [-0.00296, 0.00275], "nice": false, "zero": false}},
            "text": {"value": "0.00003"}
          }
        },
        {
          "data": {"values": [{}]},
          "mark": {"type": "text", "align": "left", "baseline": "middle", "fontSize": 12, "font": "Roboto", "color": "#2962ff"},
          "encoding": {
            "x": {"datum": 19.6, "type": "quantitative", "scale": {"domain": [-5.61, 162.7], "nice": false, "zero": false}},
            "y": {"datum": 0.00165, "type": "quantitative", "scale": {"domain": [-0.00296, 0.00275], "nice": false, "zero": false}},
            "text": {"value": "−0.00119"}
          }
        },
        {
          "data": {"values": [{}]},
          "mark": {"type": "text", "align": "left", "baseline": "middle", "fontSize": 12, "font": "Roboto", "color": "#ff6d00"},
          "encoding": {
            "x": {"datum": 27.6, "type": "quantitative", "scale": {"domain": [-5.61, 162.7], "nice": false, "zero": false}},
            "y": {"datum": 0.00165, "type": "quantitative", "scale": {"domain": [-0.00296, 0.00275], "nice": false, "zero": false}},
            "text": {"value": "−0.00121"}
          }
        }
      ]
    },
    {
      "width": 1175,
      "height": 82,
      "title": {"text": "TradingView", "orient": "bottom", "anchor": "start", "dx": 28, "offset": 21, "fontSize": 14, "fontWeight": "normal", "color": "#131722", "font": "Roboto"},
      "layer": [
        {
          "data": {"values": [{}]},
          "mark": {"type": "rect", "color": "#2962ff", "opacity": 0.1},
          "encoding": {
            "x": {"datum": -5.61, "type": "quantitative", "scale": {"domain": [-5.61, 162.7], "nice": false, "zero": false},
              "axis": {"values": [0, 12, 24, 36, 48, 66, 78, 96, 108, 126, 138], "labelExpr": "['Mar','5','7','11','13','18','20','25','27','Apr','3'][indexof([0,12,24,36,48,66,78,96,108,126,138], datum.value)]", "labelFontWeight": {"condition": {"test": "datum.value == 0 || datum.value == 126", "value": 600}, "value": 400}, "labelPadding": 10, "ticks": false, "domain": true, "domainColor": "#e0e3eb", "grid": true, "gridColor": "#f0f3fa", "title": null, "labelOverlap": false, "labelFlush": false}},
            "x2": {"datum": 151.25},
            "y": {"datum": 40, "type": "quantitative", "scale": {"domain": [-100.5, 108.2], "nice": false, "zero": false},
              "axis": {"orient": "right", "offset": -80, "values": [100, 0, -100], "format": ".5f", "labelPadding": 10, "grid": false, "ticks": false, "domain": true, "domainColor": "#e0e3eb", "title": null, "labelOverlap": false, "labelFlush": false}},
            "y2": {"datum": -40}
          }
        },
        {
          "data": {"name": "smi"},
          "transform": [{"filter": "datum.v >= 40"}],
          "mark": {"type": "area", "interpolate": "monotone", "color": {"gradient": "linear", "x1": 0, "y1": 0, "x2": 0, "y2": 1, "stops": [{"offset": 0, "color": "rgba(76,175,80,0.05)"}, {"offset": 1, "color": "rgba(76,175,80,0.22)"}]}},
          "encoding": {
            "x": {"field": "k", "type": "quantitative", "scale": {"domain": [-5.61, 162.7], "nice": false, "zero": false}},
            "y": {"field": "v", "type": "quantitative", "scale": {"domain": [-100.5, 108.2], "nice": false, "zero": false}},
            "y2": {"datum": 40}
          }
        },
        {
          "data": {"name": "smi"},
          "transform": [{"filter": "datum.v <= -40"}],
          "mark": {"type": "area", "interpolate": "monotone", "color": {"gradient": "linear", "x1": 0, "y1": 0, "x2": 0, "y2": 1, "stops": [{"offset": 0, "color": "rgba(255,82,82,0.22)"}, {"offset": 1, "color": "rgba(255,82,82,0.04)"}]}},
          "encoding": {
            "x": {"field": "k", "type": "quantitative", "scale": {"domain": [-5.61, 162.7], "nice": false, "zero": false}},
            "y": {"field": "v", "type": "quantitative", "scale": {"domain": [-100.5, 108.2], "nice": false, "zero": false}},
            "y2": {"datum": -40}
          }
        },
        {
          "data": {"values": [{"b": 40}, {"b": 0}, {"b": -40}]},
          "mark": {"type": "rule", "color": "#787b86", "strokeDash": [5, 5], "strokeWidth": 1},
          "encoding": {
            "x": {"datum": -5.61, "type": "quantitative", "scale": {"domain": [-5.61, 162.7], "nice": false, "zero": false}},
            "x2": {"datum": 151.25},
            "y": {"field": "b", "type": "quantitative", "scale": {"domain": [-100.5, 108.2], "nice": false, "zero": false}},
            "opacity": {"condition": {"test": "datum.b == 0", "value": 0.5}, "value": 0.9}
          }
        },
        {
          "data": {"name": "smis"},
          "mark": {"type": "line", "color": "#ff9800", "strokeWidth": 1.3, "interpolate": "monotone"},
          "encoding": {
            "x": {"field": "k", "type": "quantitative", "scale": {"domain": [-5.61, 162.7], "nice": false, "zero": false}},
            "y": {"field": "v", "type": "quantitative", "scale": {"domain": [-100.5, 108.2], "nice": false, "zero": false}}
          }
        },
        {
          "data": {"name": "smi"},
          "mark": {"type": "line", "color": "#2962ff", "strokeWidth": 1.3, "interpolate": "monotone"},
          "encoding": {
            "x": {"field": "k", "type": "quantitative", "scale": {"domain": [-5.61, 162.7], "nice": false, "zero": false}},
            "y": {"field": "v", "type": "quantitative", "scale": {"domain": [-100.5, 108.2], "nice": false, "zero": false}}
          }
        },
        {
          "data": {"values": [{}]},
          "mark": {"type": "text", "align": "left", "baseline": "middle", "fontSize": 12, "font": "Roboto", "color": "#131722"},
          "encoding": {
            "x": {"datum": -4.47, "type": "quantitative", "scale": {"domain": [-5.61, 162.7], "nice": false, "zero": false}},
            "y": {"datum": 67, "type": "quantitative", "scale": {"domain": [-100.5, 108.2], "nice": false, "zero": false}},
            "text": {"value": "SMI (10, 3, 3)"}
          }
        },
        {
          "data": {"values": [{}]},
          "mark": {"type": "text", "align": "left", "baseline": "middle", "fontSize": 12, "font": "Roboto", "color": "#2962ff"},
          "encoding": {
            "x": {"datum": 6.85, "type": "quantitative", "scale": {"domain": [-5.61, 162.7], "nice": false, "zero": false}},
            "y": {"datum": 67, "type": "quantitative", "scale": {"domain": [-100.5, 108.2], "nice": false, "zero": false}},
            "text": {"value": "−39.95335"}
          }
        },
        {
          "data": {"values": [{}]},
          "mark": {"type": "text", "align": "left", "baseline": "middle", "fontSize": 12, "font": "Roboto", "color": "#ff9800"},
          "encoding": {
            "x": {"datum": 15.72, "type": "quantitative", "scale": {"domain": [-5.61, 162.7], "nice": false, "zero": false}},
            "y": {"datum": 67, "type": "quantitative", "scale": {"domain": [-100.5, 108.2], "nice": false, "zero": false}},
            "text": {"value": "−46.11703"}
          }
        }
      ]
    }
  ],
  "config": {
    "font": "Roboto",
    "view": {"stroke": "#e0e3eb", "strokeWidth": 1},
    "axis": {"labelFont": "Roboto", "labelFontSize": 12, "labelColor": "#131722"}
  }
}
